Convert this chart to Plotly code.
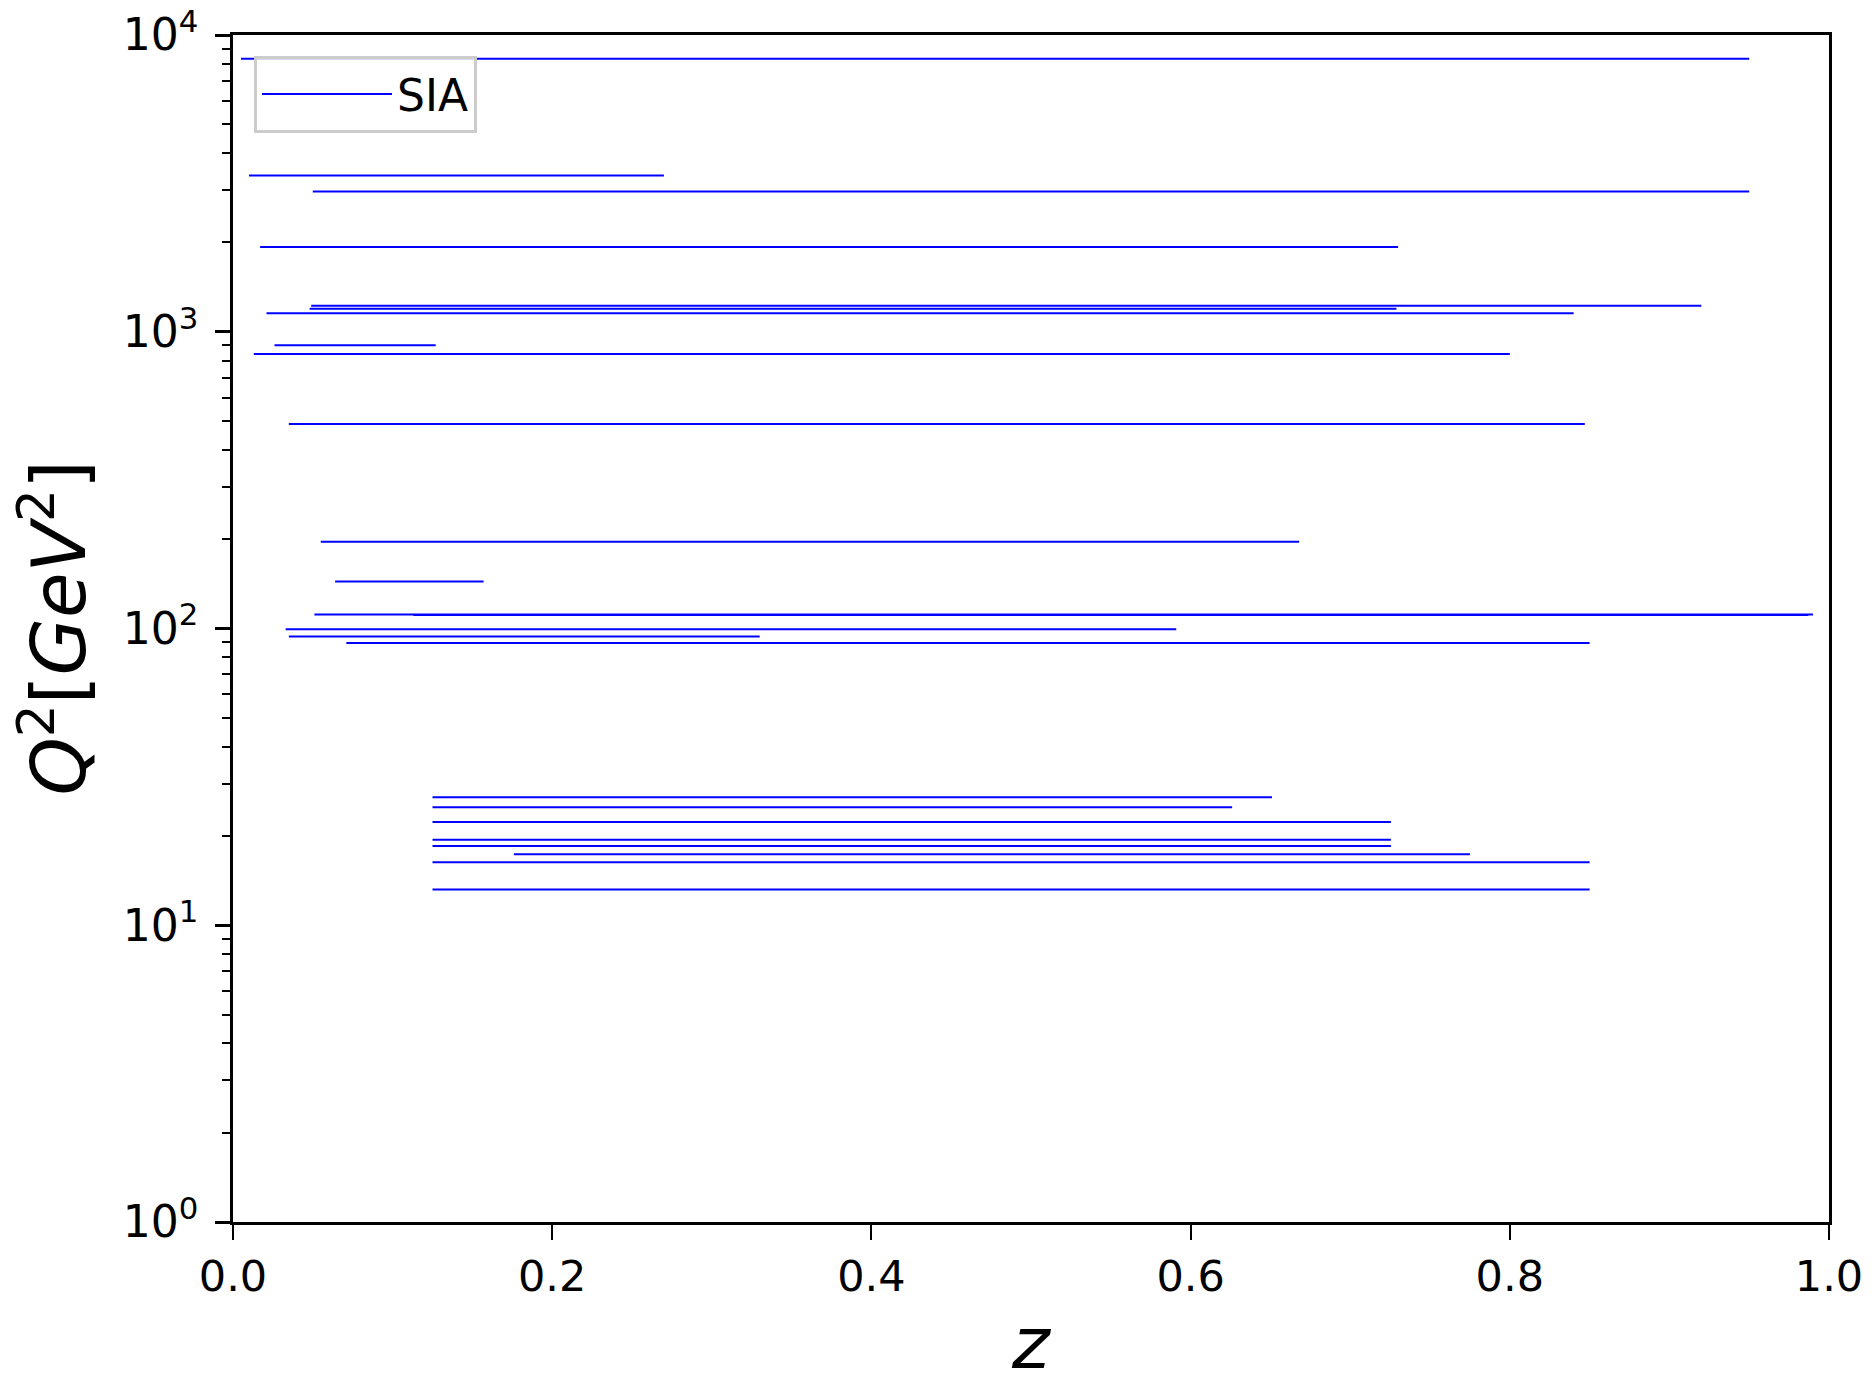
import plotly.graph_objects as go

# Data: each segment is a horizontal z-range at a fixed Q^2
q2_values = [8315, 3364, 2970, 1932, 1224, 1196, 1154, 901, 842, 489,
             196, 144, 111.5, 111, 99.5, 94, 89.3,
             27.0, 25.0, 22.3, 19.4, 18.5, 17.35, 16.3, 13.2]
z_min = [0.005, 0.010, 0.050, 0.017, 0.049, 0.048, 0.021, 0.026, 0.013, 0.035,
         0.055, 0.064, 0.051, 0.113, 0.033, 0.035, 0.071,
         0.125, 0.125, 0.125, 0.125, 0.125, 0.176, 0.125, 0.125]
z_max = [0.950, 0.270, 0.950, 0.730, 0.920, 0.729, 0.840, 0.127, 0.800, 0.847,
         0.668, 0.157, 0.990, 0.987, 0.591, 0.330, 0.850,
         0.651, 0.626, 0.7255, 0.7255, 0.7255, 0.775, 0.850, 0.850]

y_tick_vals = [1, 10, 100, 1000, 10000]
y_tick_text = ["10<sup>0</sup>", "10<sup>1</sup>", "10<sup>2</sup>", "10<sup>3</sup>", "10<sup>4</sup>"]
x_tick_vals = [0.0, 0.2, 0.4, 0.6, 0.8, 1.0]
x_tick_text = ["0.0", "0.2", "0.4", "0.6", "0.8", "1.0"]

xs, ys = [], []
for q, a, b in zip(q2_values, z_min, z_max):
    xs += [a, b, None]
    ys += [q, q, None]

minor_vals = [k * 10 ** d for d in range(0, 4) for k in range(2, 10)]

fig = go.Figure()
fig.add_trace(go.Scatter(x=xs, y=ys, mode="lines", name="SIA",
                         line=dict(color="#0000ff", width=2)))

FONT = "DejaVu Sans"
W, H = 1874, 1375
L, R, T, B = 233, 45, 35, 153
PW, PH = W - L - R, H - T - B

def px_x(x):
    return (x - L) / PW

def px_y(y):
    return (H - B - y) / PH

fig.update_layout(
    width=W, height=H, autosize=False,
    margin=dict(l=L, r=R, t=T, b=B, pad=0),
    paper_bgcolor="white", plot_bgcolor="white",
    font=dict(family=FONT, size=43, color="black"),
    showlegend=True,
    legend=dict(x=px_x(254), y=px_y(56), xanchor="left", yanchor="top",
                bgcolor="rgba(255,255,255,0.8)", bordercolor="#cccccc",
                borderwidth=3, itemwidth=130,
                font=dict(size=44, family=FONT)),
    xaxis=dict(range=[0, 1], tickvals=x_tick_vals, ticktext=x_tick_text,
               automargin=False,
               showgrid=False, zeroline=False, showline=True, linecolor="black",
               linewidth=2.5, mirror=True, ticks="outside", ticklen=15,
               tickwidth=2, tickcolor="black", tickfont=dict(size=43, family=FONT)),
    yaxis=dict(type="log", range=[0, 4], tickvals=y_tick_vals, ticktext=y_tick_text,
               automargin=False, ticklabelstandoff=8,
               showgrid=False, zeroline=False, showline=True, linecolor="black",
               linewidth=2.5, mirror=True, ticks="outside", ticklen=15,
               tickwidth=2.5, tickcolor="black", tickfont=dict(size=44, family=FONT),
               minor=dict(tickmode="array", tickvals=minor_vals, ticks="outside",
                          ticklen=8, tickwidth=2, tickcolor="black", showgrid=False)),
    annotations=[
        dict(text="<i>z</i>", xref="paper", yref="paper", x=0.5, y=px_y(1343),
             xanchor="center", yanchor="middle", showarrow=False,
             font=dict(size=72, family=FONT)),
        dict(text="<i>Q</i><sup>2</sup>[<i>GeV</i><sup>2</sup>]", xref="paper", yref="paper",
             x=px_x(53), y=0.5, xanchor="center", yanchor="middle",
             textangle=-90, showarrow=False, font=dict(size=74, family=FONT)),
    ],
)

fig.write_html("out.html")
